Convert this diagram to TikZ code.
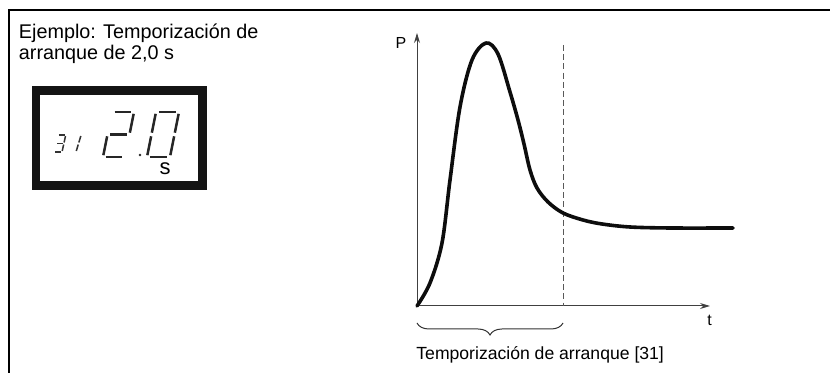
\documentclass[tikz,border=0pt]{standalone}
\usepackage{fontspec}
\setmainfont{Liberation Sans}
\usetikzlibrary{arrows.meta, decorations.pathreplacing}
\tikzstyle{frame} = [line width=1pt, black]
\tikzstyle{segbig} = [line width=1.25pt, black!85]
\tikzstyle{segsmall} = [line width=0.75pt, black!80]
\tikzstyle{axis} = [line width=0.5pt, black!75, -{Stealth[length=5pt, width=3pt]}]
\tikzstyle{curve} = [line width=1.8pt, black!95, line cap=round, line join=round]
\tikzstyle{limit} = [line width=0.5pt, black!65, dash pattern=on 3pt off 1.6pt]
\tikzstyle{label} = [inner sep=0pt, font=\fontsize{8}{9.6}\selectfont]

\begin{document}
\begin{tikzpicture}[x=0.5pt, y=0.5pt]
  \useasboundingbox (0,0) rectangle (830,373);
  % frame
  \coordinate (topright) at (830,363);
  \coordinate (corner) at (9,363);
  \coordinate (bottomleft) at (9,0);
  \draw[frame] (topright) -- (corner) -- (bottomleft);
  % title
  \node (title1) [anchor=base west, inner sep=0pt, font=\fontsize{9.9}{10.15}\selectfont] at (18.5,334) {Ejemplo: Temporización de};
  \node (title2) [anchor=base west, inner sep=0pt, font=\fontsize{9.9}{10.15}\selectfont] at (18.5,313.7) {arranque de 2,0 s};
  % display
  \fill[black!92] (32,183) rectangle (207,287);
  \fill[white] (40,192) rectangle (198,278);
  % small digits 3 1
  \begin{scope}[shift={(54,221)}, x=4pt, y=4.25pt, xslant=0.22]
    \foreach \xa/\ya/\xb/\yb in {0.15/2/0.85/2, 1/1.88/1/1.12, 1/0.88/1/0.12, 0.15/0/0.85/0, 0.15/1/0.85/1}
      \draw[segsmall] (\xa,\ya) -- (\xb,\yb);
  \end{scope}
  \begin{scope}[shift={(68,221)}, x=4pt, y=4.25pt, xslant=0.3]
    \foreach \xa/\ya/\xb/\yb in {1/1.88/1/1.12, 1/0.88/1/0.12}
      \draw[segsmall] (\xa,\ya) -- (\xb,\yb);
  \end{scope}
  % large digits 2 . 0
  \begin{scope}[shift={(103,216)}, x=11pt, y=11.25pt, xslant=0.2]
    \foreach \xa/\ya/\xb/\yb in {0.12/2/0.88/2, 1/1.92/1/1.08, 0.12/1/0.88/1, 0/0.92/0/0.08, 0.12/0/0.88/0}
      \draw[segbig] (\xa,\ya) -- (\xb,\yb);
  \end{scope}
  \fill[black!85] (140,218) circle (1.4);
  \begin{scope}[shift={(147,216)}, x=11.5pt, y=11.25pt, xslant=0.2]
    \foreach \xa/\ya/\xb/\yb in {0.12/2/0.88/2, 1/1.92/1/1.08, 1/0.92/1/0.08, 0.12/0/0.88/0, 0/0.92/0/0.08, 0/1.92/0/1.08}
      \draw[segbig] (\xa,\ya) -- (\xb,\yb);
  \end{scope}
  \node (unit) [anchor=base, inner sep=0pt, font=\fontsize{11}{13}\selectfont] at (165,198) {s};
  % axes
  \coordinate (O) at (417,67);
  \coordinate (ytip) at (417,340);
  \coordinate (xtip) at (710,67);
  \draw[axis] (O) -- (ytip);
  \draw[axis] (O) -- (xtip);
  \node (P) [label, anchor=base] at (401,324) {P};
  \node (t) [label, anchor=base] at (709.5,47) {t};
  % start time limit
  \coordinate (limtop) at (563,328);
  \coordinate (limbot) at (563,67);
  \draw[limit] (limtop) -- (limbot);
  % power curve
  \draw[curve] plot[smooth, tension=0.55] coordinates {(417,67) (430,90) (442,130) (450,193) (460,266) (472,313) (486,330) (498,319) (510,281) (518,253) (524,229) (530,203) (537,185) (548,171) (563,160) (583,153) (602,149) (630,146) (670,145) (733,145)};
  % brace
  \coordinate (brace0) at (417,50);
  \coordinate (brace1) at (563,50);
  \draw[line width=0.5pt, black!80, decorate, decoration={brace, mirror, amplitude=6pt}] (brace0) -- (brace1);
  \node (delay) [anchor=base west, inner sep=0pt, font=\fontsize{8.8}{10.5}\selectfont] at (416,13) {Temporización de arranque [31]};
\end{tikzpicture}
\end{document}
